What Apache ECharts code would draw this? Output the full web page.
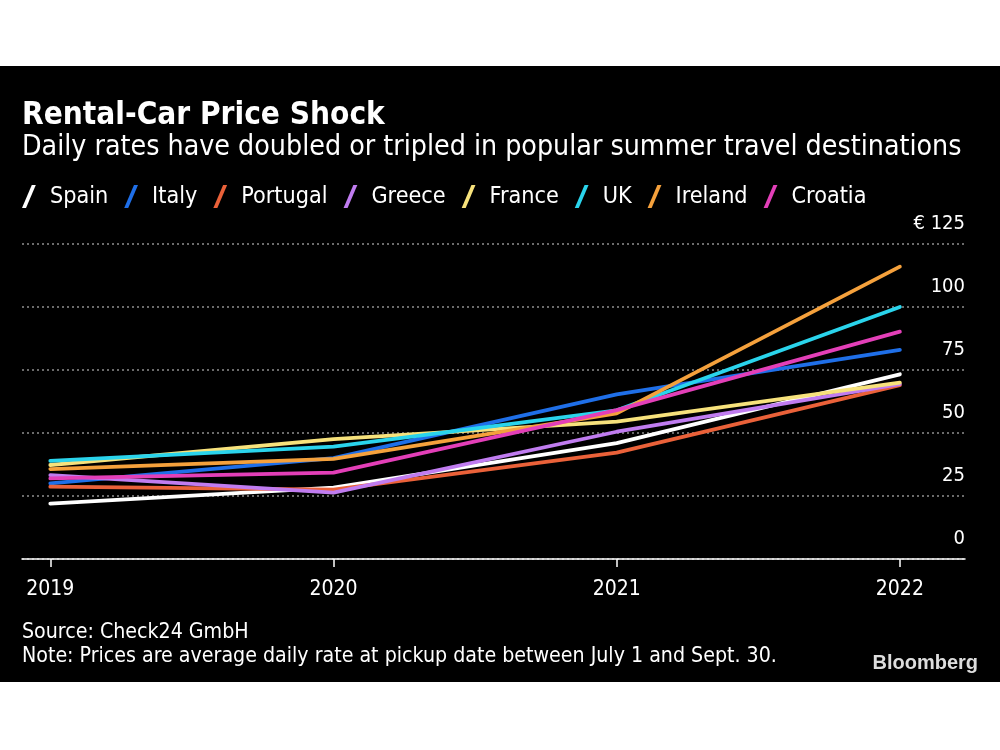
<!DOCTYPE html>
<html>
<head>
<meta charset="utf-8">
<script src="https://cdn.jsdelivr.net/npm/echarts@6/dist/echarts.min.js"></script>
<style>
  html, body { margin: 0; padding: 0; background: #ffffff; }
  #chart {
    width: 1000px; height: 750px;
    background: linear-gradient(to bottom, #ffffff 0px, #ffffff 66px, #000000 66px, #000000 682px, #ffffff 682px, #ffffff 750px);
  }
</style>
</head>
<body>
<div id="chart"></div>
<script>
const years = [2019, 2020, 2021, 2022];
const yTicks = [0, 25, 50, 75, 100, 125];
const countries = ['Spain', 'Italy', 'Portugal', 'Greece', 'France', 'UK', 'Ireland', 'Croatia'];
const spain    = [22.0, 28.3, 46.0, 73.3];
const italy    = [30.0, 40.0, 65.3, 83.0];
const portugal = [28.7, 27.5, 42.2, 69.0];
const greece   = [33.3, 26.3, 50.5, 69.4];
const france   = [37.3, 47.6, 54.5, 70.0];
const uk       = [38.9, 44.6, 59.0, 100.0];
const ireland  = [35.7, 39.7, 57.8, 116.0];
const croatia  = [32.0, 34.3, 59.1, 90.2];
const colors = ['#ffffff', '#1f6fe8', '#ea6139', '#c07cf0', '#f7e27c', '#2ad4ec', '#f5a13c', '#e33fb8'];

const seriesValues = [spain, italy, portugal, greece, france, uk, ireland, croatia];
const FONT = '"DejaVu Sans Condensed", "Liberation Sans Narrow", sans-serif';
const iconPath = 'path://M0,20 L8.5,0 L12,0 L3.5,20 Z';

const chart = echarts.init(document.getElementById('chart'), null, { renderer: 'canvas' });

const series = countries.map((name, i) => ({
  name: name,
  type: 'line',
  data: years.map((y, j) => [y, seriesValues[i][j]]),
  showSymbol: false,
  symbol: 'none',
  lineStyle: { color: colors[i], width: 3.8, cap: 'round', join: 'round' },
  itemStyle: { color: colors[i] },
  z: 3 + i,
  animation: false
}));

chart.setOption({
  backgroundColor: 'transparent',
  animation: false,
  textStyle: { fontFamily: FONT },
  title: [
    {
      text: 'Rental-Car Price Shock',
      left: 22, top: 100, padding: 0,
      textStyle: { color: '#ffffff', fontSize: 31.3, fontWeight: 'bold', fontFamily: FONT }
    },
    {
      text: 'Daily rates have doubled or tripled in popular summer travel destinations',
      left: 22, top: 134, padding: 0,
      textStyle: { color: '#ffffff', fontSize: 28.3, fontWeight: 'normal', fontFamily: FONT }
    },
    {
      text: 'Source: Check24 GmbH\nNote: Prices are average daily rate at pickup date between July 1 and Sept. 30.',
      left: 22, top: 620, padding: 0,
      textStyle: { color: '#ffffff', fontSize: 21.2, fontWeight: 'normal', lineHeight: 24, fontFamily: FONT }
    },
    {
      text: 'Bloomberg',
      right: 22, top: 653, padding: 0,
      textStyle: { color: '#dddddd', fontSize: 20, fontWeight: 'bold', fontFamily: '"Liberation Sans", Arial, sans-serif' }
    }
  ],
  legend: {
    data: countries,
    left: 22, top: 185, padding: 0,
    icon: iconPath,
    itemWidth: 14, itemHeight: 23,
    itemGap: 16,
    textStyle: { color: '#ffffff', fontSize: 23.2, fontFamily: FONT, padding: [0, 0, 0, 9] },
    selectedMode: false
  },
  grid: { left: 22, right: 35, top: 244, bottom: 191, containLabel: false },
  xAxis: {
    type: 'value',
    min: 2018.9,
    max: 2022.23,
    axisLine: { show: true, lineStyle: { color: '#ffffff', width: 1.5 } },
    axisTick: { show: true, customValues: years, length: 8, lineStyle: { color: '#ffffff', width: 1.5 } },
    axisLabel: {
      customValues: years,
      color: '#ffffff', fontSize: 21, margin: 20, fontFamily: FONT,
      formatter: v => String(v)
    },
    splitLine: { show: false }
  },
  yAxis: {
    type: 'value',
    position: 'right',
    min: 0, max: 125, interval: 25,
    axisLine: { show: false },
    axisTick: { show: false },
    axisLabel: {
      inside: true, margin: 0,
      color: '#ffffff', fontSize: 20, fontFamily: FONT,
      verticalAlign: 'bottom', padding: [0, 0, 10, 0],
      formatter: v => (v === 125 ? '€ 125' : String(v))
    },
    splitLine: { show: true, lineStyle: { color: '#8f8f8f', type: [2, 3], width: 1.5 } }
  },
  series: series
});
</script>
</body>
</html>
